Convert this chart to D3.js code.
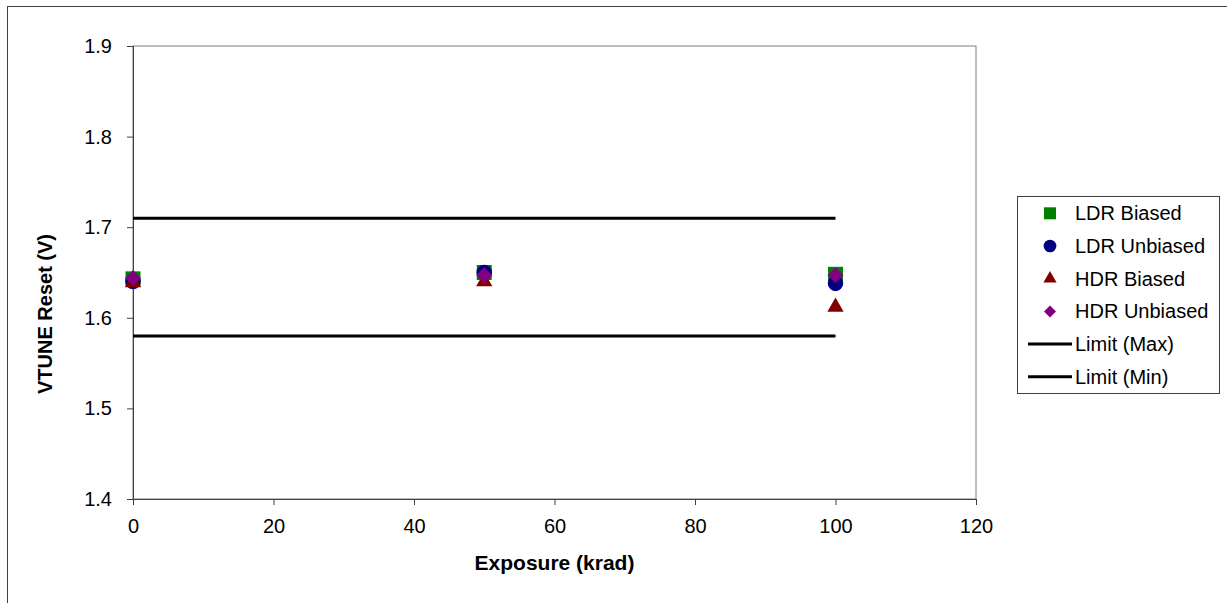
<!DOCTYPE html>
<html>
<head>
<meta charset="utf-8">
<script src="https://cdn.jsdelivr.net/npm/d3@7"></script>
<style>
  body { margin: 0; background: #fff; }
  text { font-family: "Liberation Sans", Arial, sans-serif; }
</style>
</head>
<body>
<div class="chart"></div>
<script>
// data
var exposure = [0, 50, 100];
var ldrBiased = [1.643, 1.650, 1.648];
var ldrUnbiased = [1.640, 1.650, 1.638];
var hdrBiased = [1.639, 1.640, 1.612];
var hdrUnbiased = [1.644, 1.647, 1.647];
var limitMax = [1.71, 1.71, 1.71];
var limitMin = [1.58, 1.58, 1.58];
var xTicks = [0, 20, 40, 60, 80, 100, 120];
var yTicks = [1.4, 1.5, 1.6, 1.7, 1.8, 1.9];

var svgWidth = 1227, svgHeight = 603;
var margin = { top: 46, left: 133, right: 1227 - 976, bottom: 603 - 499 };
var width = svgWidth - margin.left - margin.right;
var height = svgHeight - margin.top - margin.bottom;

var svg = d3.select(".chart").append("svg")
  .attr("width", svgWidth)
  .attr("height", svgHeight);

// outer chart border
svg.append("rect")
  .attr("x", 7.5).attr("y", 6.5)
  .attr("width", 1240).attr("height", 620)
  .attr("fill", "none").attr("stroke", "#404040").attr("stroke-width", 1);

var chartGroup = svg.append("g")
  .attr("transform", `translate(${margin.left}, ${margin.top})`);

var x = d3.scaleLinear().domain([0, 120]).range([0, width]);
var y = d3.scaleLinear().domain([1.4, 1.9]).range([height, 0]);

// plot area frame
chartGroup.append("rect")
  .attr("width", width).attr("height", height)
  .attr("fill", "none").attr("stroke", "#7f7f7f").attr("stroke-width", 1);

var xAxis = d3.axisBottom(x).tickValues(xTicks).tickSize(6).tickPadding(14).tickFormat(d3.format("d"));
var yAxis = d3.axisLeft(y).tickValues(yTicks).tickSize(6).tickPadding(15).tickFormat(d3.format(".1f"));

var gx = chartGroup.append("g")
  .attr("transform", `translate(0, ${height})`)
  .call(xAxis);
var gy = chartGroup.append("g").call(yAxis);

[gx, gy].forEach(function(g) {
  g.select(".domain").attr("stroke", "#404040");
  g.selectAll(".tick line").attr("stroke", "#404040");
  g.selectAll("text")
    .attr("fill", "#000")
    .style("font-size", "20px")
    .style("font-family", "Liberation Sans, Arial, sans-serif");
});

// limit lines
var line = d3.line()
  .x(function(d, i) { return x(exposure[i]); })
  .y(function(d) { return y(d); });

[limitMax, limitMin].forEach(function(arr) {
  chartGroup.append("path")
    .datum(arr)
    .attr("d", line)
    .attr("fill", "none")
    .attr("stroke", "#000")
    .attr("stroke-width", 3);
});

// markers in the plot are a bit bigger than the legend ones
var series = [
  { name: "LDR Biased", values: ldrBiased, symbol: d3.symbolSquare, size: 225, lsize: 144, rot: 0, color: "#008000" },
  { name: "LDR Unbiased", values: ldrUnbiased, symbol: d3.symbolCircle, size: 190, lsize: 127, rot: 0, color: "#000080" },
  { name: "HDR Biased", values: hdrBiased, symbol: d3.symbolTriangle, size: 115, lsize: 75, rot: 0, color: "#800000" },
  { name: "HDR Unbiased", values: hdrUnbiased, symbol: d3.symbolSquare, size: 128, lsize: 72, rot: 45, color: "#800080" }
];

series.forEach(function(s) {
  chartGroup.selectAll(null)
    .data(s.values)
    .enter()
    .append("path")
    .attr("d", d3.symbol().type(s.symbol).size(s.size))
    .attr("transform", function(d, i) { return `translate(${x(exposure[i])}, ${y(d)}) rotate(${s.rot})`; })
    .attr("fill", s.color);
});

// axis titles
svg.append("text")
  .attr("x", margin.left + width / 2)
  .attr("y", 570)
  .attr("text-anchor", "middle")
  .style("font-size", "21px")
  .style("font-weight", "bold")
  .text("Exposure (krad)");

svg.append("text")
  .attr("transform", "translate(52, 314) rotate(-90)")
  .attr("text-anchor", "middle")
  .style("font-size", "20px")
  .style("font-weight", "bold")
  .text("VTUNE Reset (V)");

// legend
var legend = svg.append("g").attr("transform", "translate(1017, 196)");
legend.append("rect")
  .attr("x", 0.5).attr("y", 0.5)
  .attr("width", 202).attr("height", 197)
  .attr("fill", "#fff").attr("stroke", "#404040");

var legendItems = series.map(function(s) { return { name: s.name, s: s }; })
  .concat([{ name: "Limit (Max)" }, { name: "Limit (Min)" }]);

legendItems.forEach(function(item, i) {
  var ly = 17.3 + i * 32.7;
  if (item.s) {
    legend.append("path")
      .attr("d", d3.symbol().type(item.s.symbol).size(item.s.lsize))
      .attr("transform", `translate(33, ${ly}) rotate(${item.s.rot})`)
      .attr("fill", item.s.color);
  } else {
    legend.append("line")
      .attr("x1", 11).attr("x2", 55)
      .attr("y1", ly).attr("y2", ly)
      .attr("stroke", "#000").attr("stroke-width", 3);
  }
  legend.append("text")
    .attr("x", 58)
    .attr("y", ly + 7)
    .style("font-size", "20px")
    .text(item.name);
});
</script>
</body>
</html>
